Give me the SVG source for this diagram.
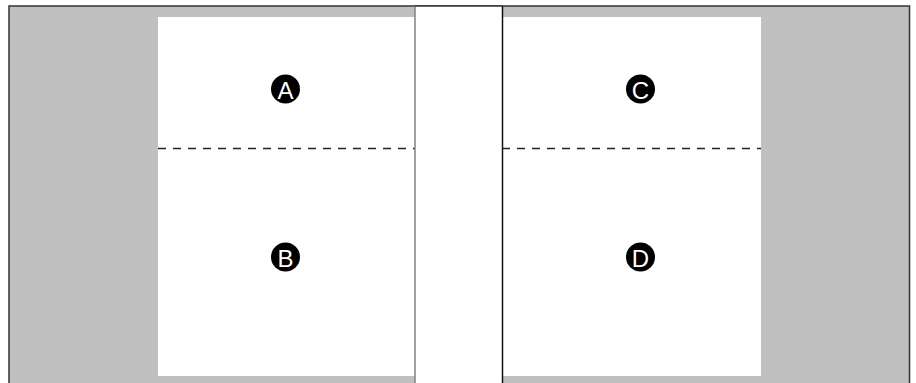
<svg xmlns="http://www.w3.org/2000/svg" width="916" height="383" viewBox="0 0 916 383">
<style>
.page{fill:#fff;stroke:none}
.fold{stroke:#222;stroke-width:1.3;stroke-dasharray:8 7;fill:none}
.badge circle{fill:#000}
.badge text{fill:#fff;font-family:"Liberation Sans",Arial,sans-serif;font-size:24px;text-anchor:middle;dominant-baseline:central}
</style>
<rect width="916" height="383" fill="#fff"/>
<g id="background">
<rect x="9" y="6" width="900.5" height="380" fill="#c0c0c0" stroke="#333" stroke-width="1.5"/>
</g>
<g id="page-left">
<rect class="page" x="158" y="17" width="257" height="359"/>
<line class="fold" x1="158" y1="148.5" x2="415" y2="148.5"/>
</g>
<g id="page-right">
<rect class="page" x="502" y="17" width="259" height="359"/>
<line class="fold" x1="502" y1="148.5" x2="761" y2="148.5"/>
</g>
<g id="spine">
<rect x="415" y="6" width="87.5" height="380" fill="#fff"/>
<line x1="415" y1="6" x2="415" y2="383" stroke="#808080" stroke-width="1.5"/>
<line x1="502.5" y1="6" x2="502.5" y2="383" stroke="#111" stroke-width="1.5"/>
<line x1="415" y1="6" x2="502.5" y2="6" stroke="#333" stroke-width="1.5"/>
</g>
<g id="A" class="badge"><circle cx="285.5" cy="89" r="14.5"/><text x="285.5" y="90">A</text></g>
<g id="B" class="badge"><circle cx="285.5" cy="257" r="14.5"/><text x="285.5" y="258">B</text></g>
<g id="C" class="badge"><circle cx="640.5" cy="89" r="14.5"/><text x="640.5" y="90">C</text></g>
<g id="D" class="badge"><circle cx="640.5" cy="257" r="14.5"/><text x="640.5" y="258">D</text></g>
</svg>
